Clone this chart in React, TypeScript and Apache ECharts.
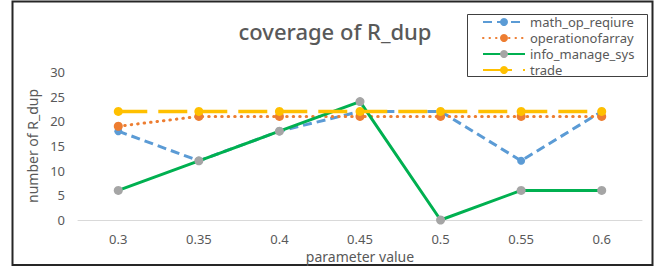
import React, { useEffect, useRef } from "react";
import * as echarts from "echarts";

const categories = ["0.3", "0.35", "0.4", "0.45", "0.5", "0.55", "0.6"];
const mathOpReqiure = [18, 12, 18, 22, 22, 12, 22];
const operationOfArray = [19, 21, 21, 21, 21, 21, 21];
const infoManageSys = [6, 12, 18, 24, 0, 6, 6];
const trade = [22, 22, 22, 22, 22, 22, 22];
const seriesNames = ["math_op_reqiure", "operationofarray", "info_manage_sys", "trade"];

const FONT = "'Noto Sans', 'Open Sans', sans-serif";
const TXT = "#595959";

export default function App() {
  const ref = useRef<HTMLDivElement>(null);
  useEffect(() => {
    if (!ref.current) return;
    const chart = echarts.init(ref.current, null, { renderer: "svg" });
    chart.setOption({
      animation: false,
      backgroundColor: "#ffffff",
      title: {
        text: "coverage of R_dup",
        left: 330,
        textAlign: "center",
        top: 15,
        textStyle: { fontFamily: FONT, fontSize: 22, fontWeight: 500, color: TXT },
      },
      legend: {
        orient: "vertical",
        left: 482,
        top: 15,
        padding: 0,
        itemWidth: 42,
        itemHeight: 10,
        itemGap: 2,
        data: seriesNames,
        textStyle: { fontFamily: FONT, fontSize: 13, lineHeight: 14, color: TXT },
      },
      grid: { left: 78, right: 18, top: 72, bottom: 49, outerBoundsMode: "none", containLabel: false },
      xAxis: {
        type: "category",
        data: categories,
        boundaryGap: true,
        name: "parameter value",
        nameLocation: "middle",
        nameGap: 22,
        nameTextStyle: { fontFamily: FONT, fontSize: 14, color: TXT },
        axisLine: { lineStyle: { color: "#d9d9d9", width: 1 } },
        axisTick: { show: false },
        axisLabel: { fontFamily: FONT, fontSize: 13, color: TXT, margin: 12 },
      },
      yAxis: {
        type: "value",
        min: 0,
        max: 30,
        interval: 5,
        name: "number of R_dup",
        nameLocation: "middle",
        nameGap: 38,
        nameTextStyle: { fontFamily: FONT, fontSize: 14, color: TXT },
        axisLine: { show: false },
        axisTick: { show: false },
        splitLine: { show: false },
        axisLabel: { fontFamily: FONT, fontSize: 13, color: TXT, margin: 13 },
      },
      series: [
        {
          name: seriesNames[0],
          type: "line",
          data: mathOpReqiure,
          z: 2,
          symbol: "circle",
          symbolSize: 8,
          itemStyle: { color: "#5b9bd5" },
          lineStyle: { color: "#5b9bd5", width: 3, type: [9, 5] },
        },
        {
          name: seriesNames[1],
          type: "line",
          data: operationOfArray,
          z: 3,
          symbol: "circle",
          symbolSize: 9,
          itemStyle: { color: "#ed7d31" },
          lineStyle: { color: "#ed7d31", width: 3, type: [0.5, 6], cap: "round" },
        },
        {
          name: seriesNames[2],
          type: "line",
          data: infoManageSys,
          z: 4,
          symbol: "circle",
          symbolSize: 9,
          itemStyle: { color: "#a5a5a5" },
          lineStyle: { color: "#00b050", width: 3 },
        },
        {
          name: seriesNames[3],
          type: "line",
          data: trade,
          z: 5,
          symbol: "circle",
          symbolSize: 9,
          itemStyle: { color: "#ffc000" },
          lineStyle: { color: "#ffc000", width: 3.5, type: [29, 11] },
        },
      ],
      graphic: [
        {
          type: "rect",
          shape: { x: 12.5, y: 1.5, width: 640, height: 263.5 },
          style: { fill: "none", stroke: "#262626", lineWidth: 2 },
          silent: true,
        },
        {
          type: "rect",
          shape: { x: 467.5, y: 14.5, width: 180, height: 62 },
          style: { fill: "none", stroke: "#404040", lineWidth: 1 },
          silent: true,
        },
      ],
    });
    return () => chart.dispose();
  }, []);
  return (
    <div
      ref={ref}
      style={{ position: "fixed", left: 0, top: 0, width: 660, height: 269 }}
    />
  );
}
